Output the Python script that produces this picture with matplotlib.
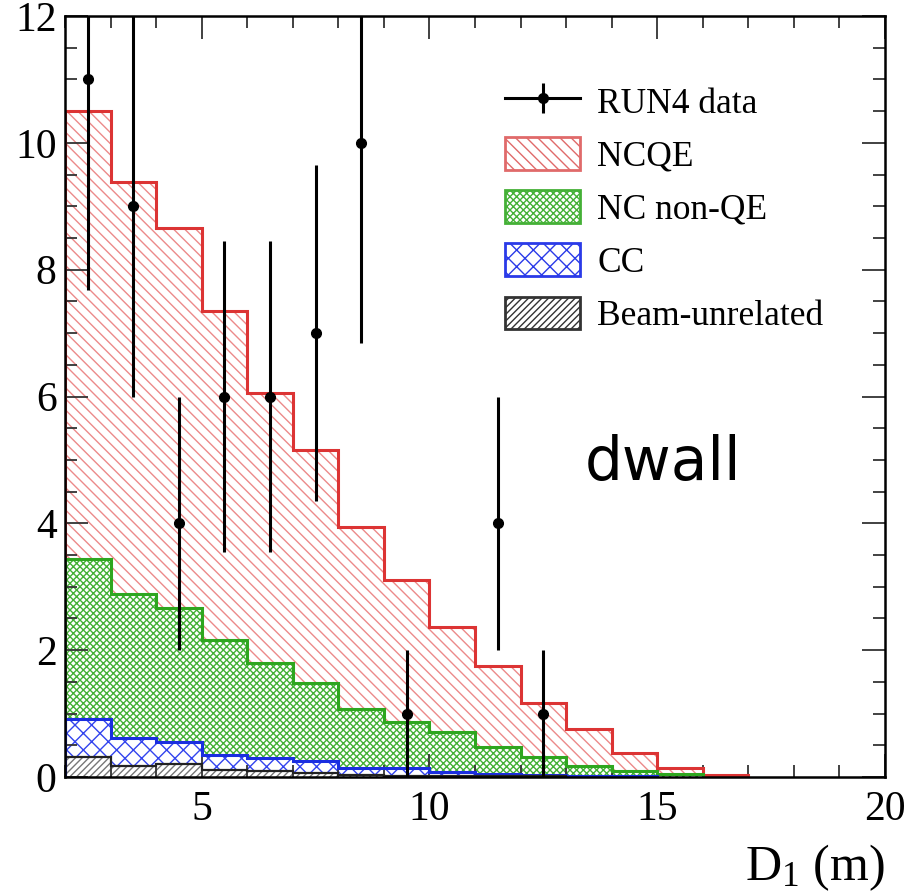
import numpy as np
import matplotlib
matplotlib.use("Agg")
import matplotlib.pyplot as plt
from matplotlib.lines import Line2D
from matplotlib.patches import Patch
from matplotlib.ticker import MultipleLocator, FixedLocator
from matplotlib.legend_handler import HandlerTuple

# ---------------- data ----------------
bin_edges = list(range(2, 21))  # 18 bins of 1 m from 2 to 20
beam_unrelated = [0.32, 0.17, 0.20, 0.11, 0.09, 0.06, 0.03, 0.02, 0.02, 0.01, 0.01, 0, 0, 0, 0, 0, 0, 0]
cc = [0.60, 0.45, 0.35, 0.24, 0.21, 0.19, 0.11, 0.12, 0.06, 0.04, 0.02, 0.02, 0.01, 0, 0, 0, 0, 0]
nc_non_qe = [2.52, 2.27, 2.12, 1.81, 1.50, 1.24, 0.93, 0.73, 0.63, 0.42, 0.29, 0.15, 0.08, 0.05, 0, 0, 0, 0]
ncqe = [7.06, 6.49, 5.99, 5.19, 4.25, 3.66, 2.88, 2.24, 1.66, 1.28, 0.85, 0.59, 0.29, 0.09, 0.03, 0, 0, 0]

data_x = [2.5, 3.5, 4.5, 5.5, 6.5, 7.5, 8.5, 9.5, 11.5, 12.5]
data_y = [11, 9, 4, 6, 6, 7, 10, 1, 4, 1]
data_err = [3.32, 3.0, 2.0, 2.45, 2.45, 2.65, 3.16, 1.0, 2.0, 1.0]

labels = ["RUN4 data", "NCQE", "NC non-QE", "CC", "Beam-unrelated"]
x_major_ticks = [5, 10, 15, 20]
y_major_ticks = [0, 2, 4, 6, 8, 10, 12]

# ---------------- style ----------------
plt.rcParams['font.family'] = ['Liberation Serif', 'DejaVu Serif']
plt.rcParams['mathtext.fontset'] = 'custom'
plt.rcParams['mathtext.rm'] = 'Liberation Serif'
plt.rcParams['mathtext.it'] = 'Liberation Serif:italic'
plt.rcParams['hatch.linewidth'] = 1.0

fig = plt.figure(figsize=(9.14, 8.96), dpi=100)
ax = fig.add_axes([65/914, 1-777/896, 820/914, 761/896])

edges = np.array(bin_edges, dtype=float)
layers = [
    (beam_unrelated, '#777777', '#222222', '/////', 1.6),
    (cc, '#3344ee', '#1a2ee0', 'xx', 2.2),
    (nc_non_qe, '#44b036', '#2ea61f', 'xxxxx', 2.2),
    (ncqe, '#ec8a8a', '#dc3434', '\\\\\\', 2.2),
]

bottom = np.zeros(len(edges) - 1)
tops = []
for vals, hcol, lcol, hatch, lw in layers:
    top = bottom + np.array(vals, dtype=float)
    ax.stairs(top, edges, baseline=bottom.copy(), fill=True, facecolor='none',
              edgecolor=hcol, hatch=hatch, linewidth=0, zorder=1)
    tops.append(top)
    bottom = top

# outlines, top layer first so lower outlines are drawn over it
for (vals, hcol, lcol, hatch, lw), top in reversed(list(zip(layers, tops))):
    nz = np.nonzero(top > 0)[0]
    n = nz[-1] + 1 if len(nz) else 0
    if n:
        ax.stairs(top[:n], edges[:n + 1], baseline=0, fill=False,
                  edgecolor=lcol, linewidth=lw, zorder=2)

ax.errorbar(data_x, data_y, yerr=data_err, fmt='o', color='black', ms=7,
            elinewidth=2.2, capsize=0, zorder=5)

ax.set_xlim(2, 20)
ax.set_ylim(0, 12)
ax.xaxis.set_major_locator(FixedLocator(x_major_ticks))
ax.xaxis.set_minor_locator(MultipleLocator(1))
ax.yaxis.set_major_locator(FixedLocator(y_major_ticks))
ax.yaxis.set_minor_locator(MultipleLocator(0.5))
ax.tick_params(which='both', direction='in', top=True, right=True, color='#333333')
ax.tick_params(which='major', length=16.5, width=1.3, labelsize=30, pad=6)
ax.tick_params(which='minor', length=8.5, width=1.3)
ax.tick_params(axis='x', which='major', pad=10)
for s in ax.spines.values():
    s.set_linewidth(1.8)
    s.set_zorder(6)

ax.set_xlabel(r'D$_{\mathrm{1}}$ (m)', fontsize=36, loc='right')
ax.xaxis.set_label_coords(1.0, -(880 - 777) / 761)
ax.xaxis.label.set_va('baseline')

ax.text((585 - 65) / 820, (777 - 480) / 761, 'dwall', transform=ax.transAxes,
        fontsize=43, family='DejaVu Sans', va='baseline', ha='left')

# legend
h_data = (Line2D([], [], color='black', lw=2.2, marker='o', ms=7),
          Line2D([], [], color='black', ls='none', marker='|', ms=21, mew=2.2))
h_ncqe = Patch(facecolor='none', edgecolor='#e06a6a', hatch='\\\\\\', linewidth=2)
h_non = Patch(facecolor='none', edgecolor='#44b036', hatch='xxxxx', linewidth=2)
h_cc = Patch(facecolor='none', edgecolor='#2a3ae8', hatch='xx', linewidth=2)
h_beam = Patch(facecolor='none', edgecolor='#333333', hatch='/////', linewidth=2)
leg = ax.legend([h_data, h_ncqe, h_non, h_cc, h_beam], labels,
                handler_map={tuple: HandlerTuple(ndivide=1, pad=0)},
                loc='upper left', bbox_to_anchor=((505 - 65) / 820, (777 - 84) / 761),
                frameon=False, fontsize=25.5, borderpad=0, borderaxespad=0,
                handlelength=2.12, handleheight=1.05, labelspacing=0.47,
                handletextpad=0.49)

fig.savefig('out.png', dpi=100)
